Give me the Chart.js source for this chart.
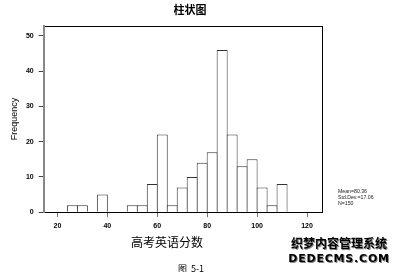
<!DOCTYPE html>
<html><head><meta charset="utf-8">
<script src="https://cdn.jsdelivr.net/npm/chart.js@4/dist/chart.umd.min.js"></script>
<style>
html,body{margin:0;padding:0;background:#fff;}
#wrap{position:relative;width:398px;height:272px;overflow:hidden;background:#fff;}
canvas{position:absolute;left:0;top:0;}
.t{position:absolute;white-space:nowrap;color:#000;transform:translate(-50%,-50%);line-height:1;}
</style></head><body>
<div id="wrap">
<canvas id="c" width="398" height="272"></canvas>
<div class="t" style="left:167px;top:241px;font:12px 'Noto Sans CJK SC';">高考英语分数</div>
<div class="t" style="left:191px;top:268px;font:9px 'Noto Sans CJK SC';">图&nbsp;&nbsp;5-1</div>
<div class="t" style="left:338px;top:188px;transform:none;font:5.2px 'Liberation Sans';line-height:6px;color:#222;">Mean=80.36<br>Std.Dev.=17.06<br>N=150</div>
<div class="t" style="left:339px;top:242px;font:bold 12px 'Noto Sans CJK SC';text-shadow:1px 1px 0 #888;">织梦内容管理系统</div>
<div class="t" style="left:339px;top:258px;font:bold 11px 'DejaVu Sans';letter-spacing:0.8px;text-shadow:1px 1px 0 #888;">DEDECMS.COM</div>
</div>
<script>
const binCenters = [26,30,38,50,54,58,62,66,70,74,78,82,86,90,94,98,102,106,110];
const frequencies = [2,2,5,2,2,8,22,2,7,10,14,17,46,22,13,15,7,2,8];
const xTickValues = [20,40,60,80,100,120];
const yTickValues = [0,10,20,30,40,50];

const points = binCenters.map((x,i)=>({x:x, y:frequencies[i]}));
const tickFont = {family:'Liberation Sans', size:7, weight:'bold'};

new Chart(document.getElementById('c'), {
  type:'bar',
  data:{datasets:[{data:points, backgroundColor:'#fff', borderColor:'#333', borderWidth:1,
    borderSkipped:'bottom', barPercentage:1.1, categoryPercentage:1, grouped:false}]},
  options:{
    responsive:false, animation:false, devicePixelRatio:1,
    layout:{padding:{top:0,left:6,right:24,bottom:36.4}},
    plugins:{
      legend:{display:false}, tooltip:{enabled:false},
      title:{display:true,text:'柱状图',color:'#000',
        font:{family:"'Noto Sans CJK SC'",size:11,weight:'bold'},padding:{top:3.4,bottom:9.4}}
    },
    scales:{
      x:{type:'linear',position:'bottom',min:14.5,max:126,offset:false,
        afterBuildTicks:a=>{a.ticks=xTickValues.map(v=>({value:v}));},
        ticks:{font:tickFont,color:'#000',padding:5,maxRotation:0,autoSkip:false},
        grid:{display:true,drawOnChartArea:false,drawTicks:true,tickLength:5,color:'#777',offset:false},
        border:{display:true,color:'#000',width:1}},
      xTop:{type:'linear',position:'top',min:14.5,max:126,offset:false,
        ticks:{display:false},grid:{drawOnChartArea:false,drawTicks:false},
        border:{display:true,color:'#000',width:1},afterFit:s=>{s.height=0;}},
      y:{type:'linear',position:'left',min:0,max:52.8,
        afterBuildTicks:a=>{a.ticks=yTickValues.map(v=>({value:v}));},
        ticks:{font:tickFont,color:'#000',padding:5,autoSkip:false},
        grid:{display:true,drawOnChartArea:false,tickLength:5,color:'#444'},
        border:{display:true,color:'#888',width:2},
        title:{display:true,text:'Frequency',color:'#000',font:{family:'Liberation Sans',size:9},padding:{top:3.1,bottom:1.0}}},
      yR:{type:'linear',position:'right',min:0,max:52.8,
        ticks:{display:false},grid:{drawOnChartArea:false,drawTicks:false},
        border:{display:true,color:'#000',width:1},afterFit:s=>{s.width=52;}}
    }
  }
});
</script>
</body></html>
